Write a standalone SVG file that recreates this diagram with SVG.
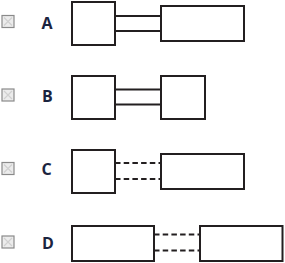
<svg xmlns="http://www.w3.org/2000/svg" width="285" height="263" viewBox="0 0 285 263">
<style>
.box{fill:#fff;stroke:#231f20;stroke-width:2}
.ln{stroke:#231f20;stroke-width:2;fill:none}
.dash{stroke-dasharray:5.5,3.2}
.lbl{font-family:"Open Sans","Liberation Sans",sans-serif;font-weight:bold;font-size:16px;fill:#1b2440}
.cb{fill:#ececec;stroke:#8a8a8a;stroke-width:1.2}
.cbx{stroke:#d0d0d0;stroke-width:1.2}
</style>
<defs>
<g id="check">
<rect class="cb" x="0.5" y="0.5" width="12" height="12"/>
<path class="cbx" d="M2.5 2.5 L10.5 10.5 M10.5 2.5 L2.5 10.5"/>
</g>
</defs>
<g id="rowA">
<use href="#check" x="1.5" y="15"/>
<text class="lbl" x="41.5" y="28.5">A</text>
<g id="A1"><rect class="box" x="72" y="2" width="43" height="43"/></g>
<g id="A2"><rect class="box" x="161" y="6" width="83" height="35"/></g>
</g>
<g id="rowB">
<use href="#check" x="1.5" y="88.5"/>
<text class="lbl" x="42" y="102">B</text>
<g id="B1"><rect class="box" x="72" y="76" width="43" height="43"/></g>
<g id="B2"><rect class="box" x="161" y="76" width="44" height="43"/></g>
</g>
<g id="rowC">
<use href="#check" x="1.5" y="162"/>
<text class="lbl" x="41.5" y="174.5">C</text>
<g id="C1"><rect class="box" x="72" y="150" width="43" height="43"/></g>
<g id="C2"><rect class="box" x="161" y="154" width="83" height="35"/></g>
</g>
<g id="rowD">
<use href="#check" x="1.5" y="235.5"/>
<text class="lbl" x="42" y="249">D</text>
<g id="D1"><rect class="box" x="72" y="226" width="82" height="35"/></g>
<g id="D2"><rect class="box" x="200" y="226" width="82.5" height="35"/></g>
</g>
<g id="connectors">
<path class="ln" d="M115 16 H161 M115 31 H161"/>
<path class="ln" d="M115 89.5 H161 M115 104.5 H161"/>
<path class="ln dash" d="M115 163 H161 M115 179 H161"/>
<path class="ln dash" d="M154 234.5 H200 M154 250.5 H200"/>
</g>
</svg>
